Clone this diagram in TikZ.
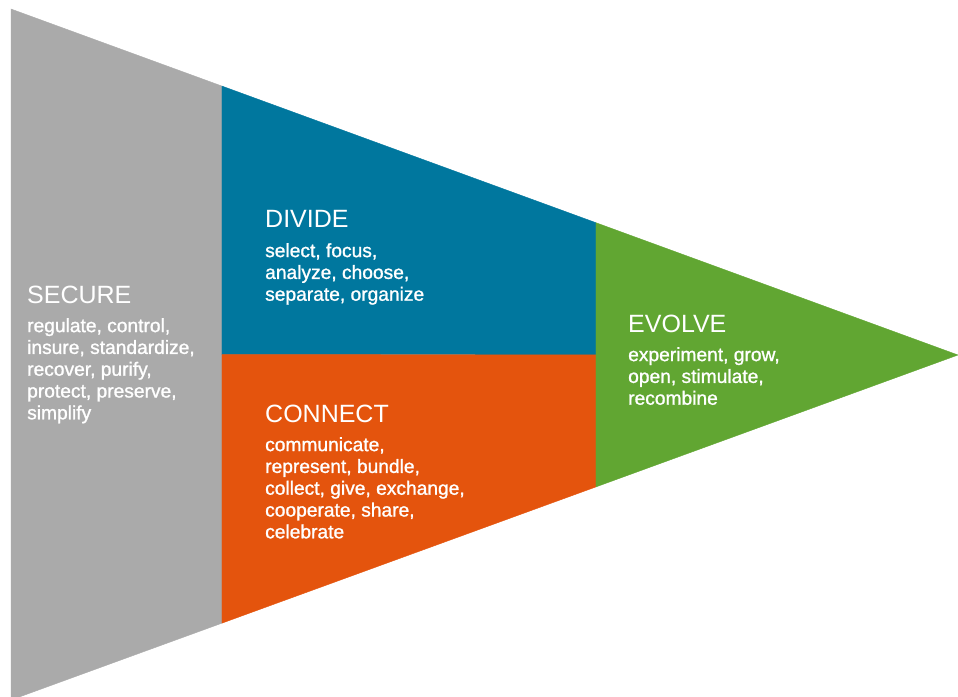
\documentclass[tikz,border=0pt]{standalone}
\usepackage{fontspec}
\setmainfont{Liberation Sans}
\newfontfamily\wordfont[FakeBold=1.2]{Liberation Sans}
\usetikzlibrary{calc}

\definecolor{securegray}{HTML}{AAAAAA}
\definecolor{divideblue}{HTML}{00779E}
\definecolor{connectorange}{HTML}{E4540D}
\definecolor{evolvegreen}{HTML}{61A632}

\begin{document}
\begin{tikzpicture}[x=1pt,y=-1pt,
    title/.style={anchor=base west,inner sep=0pt,text=white,
      font=\fontsize{25}{25}\selectfont},
    words/.style={anchor=north west,inner sep=0pt,text=white,align=left,
      font=\wordfont\fontsize{19.2}{21.8}\selectfont}]
  \useasboundingbox (0,0) rectangle (958,696);
  \clip (0,0) rectangle (958,696);

  % outline of the wedge
  \coordinate (top) at (11,9);
  \coordinate (bot) at (11,700);
  \coordinate (tip) at (958,355);
  \coordinate (a1) at ($(top)!0.2228!(tip)$);
  \coordinate (b1) at ($(bot)!0.2228!(tip)$);
  \coordinate (a2) at ($(top)!0.6177!(tip)$);
  \coordinate (b2) at ($(bot)!0.6177!(tip)$);
  \coordinate (m1) at ($(a1)!0.5!(b1)$);
  \coordinate (m2) at ($(a2)!0.5!(b2)$);

  \filldraw[securegray,line width=0.4pt] (top) -- (a1) -- (b1) -- (bot) -- cycle;
  \filldraw[divideblue,line width=0.4pt] (a1) -- (a2) -- (m2) -- (m1) -- cycle;
  \filldraw[connectorange,line width=0.4pt] (m1) -- (m2) -- (b2) -- (b1) -- cycle;
  \filldraw[evolvegreen,line width=0.4pt] (a2) -- (tip) -- (b2) -- cycle;

  % titles and words (first word line sits about 29pt under the title)
  \node[title] (secure) at (27,303) {SECURE};
  \node[words] (secure-words) at ($(secure.base west)+(0,15)$)
    {regulate, control,\\insure, standardize,\\recover, purify,\\protect, preserve,\\simplify};

  \node[title] (divide) at (265,227) {DIVIDE};
  \node[words] (divide-words) at ($(divide.base west)+(0,16)$)
    {select, focus,\\analyze, choose,\\separate, organize};

  \node[title] (connect) at (265,422) {CONNECT};
  \node[words] (connect-words) at ($(connect.base west)+(0,15)$)
    {communicate,\\represent, bundle,\\collect, give, exchange,\\cooperate, share,\\celebrate};

  \node[title] (evolve) at (628,332) {EVOLVE};
  \node[words] (evolve-words) at ($(evolve.base west)+(0,15)$)
    {experiment, grow,\\open, stimulate,\\recombine};
\end{tikzpicture}
\end{document}
